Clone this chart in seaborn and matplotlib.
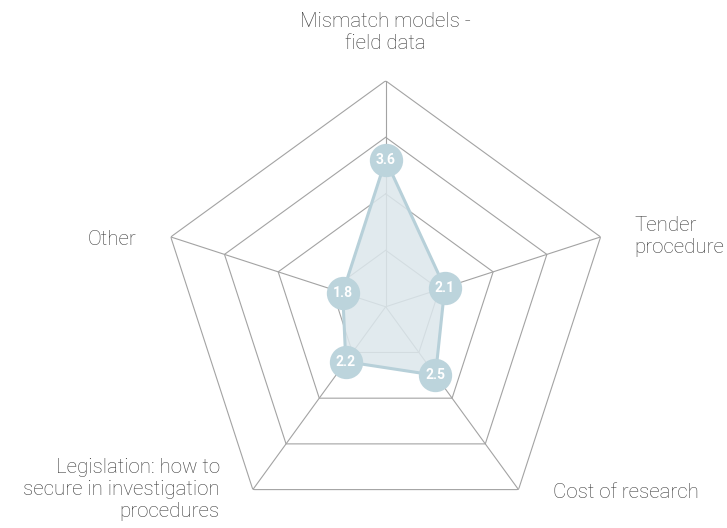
import numpy as np
import matplotlib
matplotlib.use("Agg")
import matplotlib.pyplot as plt
import seaborn as sns

# -----------------------------
# Data
# -----------------------------

categories = [
    "Mismatch models -\nfield data",
    "Tender\nprocedure",
    "Cost of research",
    "Legislation: how to\nsecure in investigation\nprocedures",
    "Other",
]
scores = [3.6, 2.1, 2.5, 2.2, 1.8]
ring_levels = [2, 3, 4, 5]

# label placement: offset in pixels from the outer vertex, alignment
label_offsets = [(0, 28), (34, 0), (34, -3), (-33, 0), (-34, -3)]
label_align = [("center", "bottom"), ("left", "center"), ("left", "center"),
               ("right", "center"), ("right", "center")]

# -----------------------------
# Style
# -----------------------------

sns.set_theme(style="white")
plt.rcParams["font.family"] = ["Roboto", "DejaVu Sans"]

line_col = "#b7d0d9"
fill_col = "#dce7ec"
dot_col = "#bcd4dc"
grid_col = "#a3a3a3"
text_col = "#3a3a3a"

fig = plt.figure(figsize=(7.27, 5.28), dpi=100)
ax = fig.add_axes([0.5305 - 0.311, 0.419 - 0.428, 0.622, 0.856], projection="polar")
ax.set_theta_offset(np.pi / 2)
ax.set_theta_direction(-1)
ax.set_ylim(1, 5)

n = len(categories)
angles = np.linspace(0, 2 * np.pi, n, endpoint=False)
closed = np.append(angles, angles[0])

# pentagon grid
for lvl in ring_levels:
    ax.plot(closed, [lvl] * (n + 1), color=grid_col, lw=0.8, zorder=1)
for a in angles:
    ax.plot([a, a], [1, 5], color=grid_col, lw=0.8, zorder=1)

# data polygon
vals = np.append(scores, scores[0])
ax.fill(closed, vals, color=fill_col, alpha=0.85, zorder=2)
ax.plot(closed, vals, color=line_col, lw=2.2, zorder=3)
ax.plot(angles, scores, "o", ms=24, color=dot_col, mec="none", zorder=4)
for a, v in zip(angles, scores):
    ax.text(a, v, f"{v:.1f}", ha="center", va="center", color="white",
            fontsize=10, fontweight="bold", zorder=5)

# category labels
for a, lab, off, (ha, va) in zip(angles, categories, label_offsets, label_align):
    ax.annotate(lab, xy=(a, 5), xytext=(off[0] * 0.72, off[1] * 0.72),
                textcoords="offset points", ha=ha, va=va, color=text_col,
                fontsize=14.8, fontweight="light", linespacing=1.2,
                multialignment=ha if ha != "center" else "center",
                annotation_clip=False)

ax.set_xticks([])
ax.set_yticks([])
ax.grid(False)
ax.spines["polar"].set_visible(False)
ax.patch.set_alpha(0)

fig.savefig("out.png", dpi=100)
